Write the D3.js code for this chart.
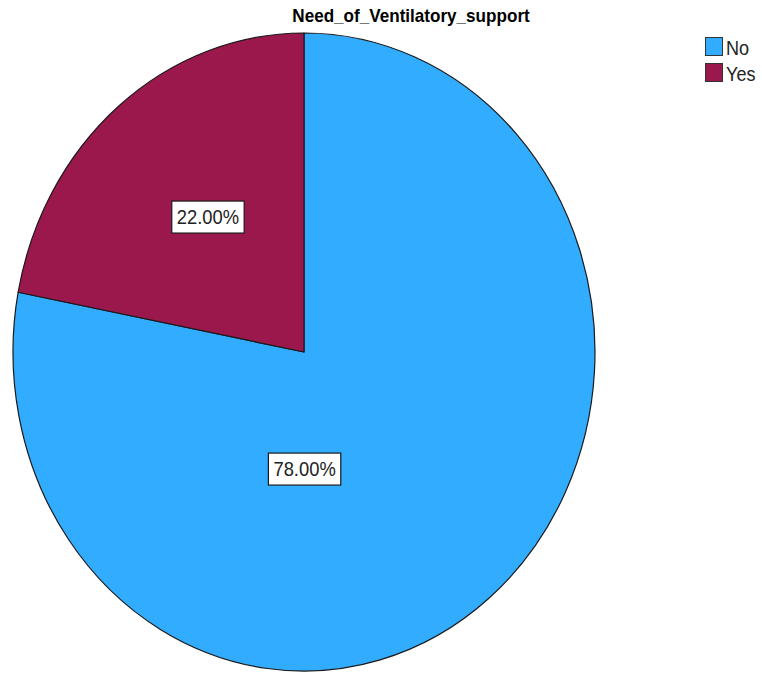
<!DOCTYPE html>
<html>
<head>
<meta charset="utf-8">
<script src="https://cdn.jsdelivr.net/npm/d3@7"></script>
<style>
  html, body { margin: 0; padding: 0; background: #ffffff; }
  svg { display: block; }
</style>
</head>
<body>
<svg id="chart" width="762" height="675"></svg>
<script>
// Chart data
const title = "Need_of_Ventilatory_support";
const categories = ["No", "Yes"];
const percents = [78.00, 22.00];
const colors = ["#31acff", "#9b184d"];

// Layout
const W = 762, H = 675;
const cx = 304, cy = 352;      // pie centre
const rx = 291, ry = 319;      // horizontal / vertical radius (pie is drawn stretched)
// label anchors, as fractions of the radii relative to the centre
const labelOffsets = [[0.002, 0.367], [-0.33, -0.423]];
const FONT = "Liberation Sans, Arial, sans-serif";

const svg = d3.select("#chart");

// Title
svg.append("text")
  .attr("transform", "translate(411,22) scale(0.95,1)")
  .attr("text-anchor", "middle")
  .attr("font-family", FONT)
  .attr("font-weight", "bold")
  .attr("font-size", 18)
  .attr("fill", "#000")
  .text(title);

// Pie: "No" runs clockwise from 12 o'clock, "Yes" fills the rest
const data = categories.map((c, i) => ({ cat: c, value: percents[i], color: colors[i], i }));
const pie = d3.pie().value(d => d.value).sort(null);
const arcs = pie(data);
const arc = d3.arc().innerRadius(0).outerRadius(ry);

const g = svg.append("g")
  .attr("transform", `translate(${cx},${cy}) scale(${rx / ry},1)`);

g.selectAll("path.slice")
  .data(arcs)
  .join("path")
  .attr("class", "slice")
  .attr("d", arc)
  .attr("fill", d => d.data.color)
  .attr("stroke", "#1a1a1a")
  .attr("stroke-width", 1.2)
  .attr("stroke-linejoin", "round")
  .attr("vector-effect", "non-scaling-stroke");

// Value labels in white boxes
const fmt = d3.format(".2f");
const labels = svg.append("g").selectAll("g.lbl")
  .data(arcs)
  .join("g")
  .attr("class", "lbl")
  .attr("transform", d => {
    const o = labelOffsets[d.data.i];
    return `translate(${cx + o[0] * rx},${cy + o[1] * ry})`;
  });

labels.each(function(d) {
  const sel = d3.select(this);
  const t = sel.append("text")
    .attr("text-anchor", "middle")
    .attr("dy", "0.36em")
    .attr("transform", "scale(0.92,1)")
    .attr("font-family", FONT)
    .attr("font-size", 20)
    .attr("fill", "#222")
    .text(fmt(d.data.value) + "%");
  const bb = t.node().getBBox();
  const w = bb.width * 0.92 + 10;
  sel.insert("rect", "text")
    .attr("x", -w / 2).attr("y", -16)
    .attr("width", w).attr("height", 32)
    .attr("fill", "#fff")
    .attr("stroke", "#1a1a1a")
    .attr("stroke-width", 1.2);
});

// Legend
const legend = svg.append("g").attr("transform", "translate(705,37)");
const items = legend.selectAll("g")
  .data(data)
  .join("g")
  .attr("transform", (d, i) => `translate(0,${i * 26})`);
items.append("rect")
  .attr("x", 0.5).attr("y", 0.5)
  .attr("width", 17).attr("height", 18)
  .attr("fill", d => d.color)
  .attr("stroke", "#333")
  .attr("stroke-width", 1);
items.append("text")
  .attr("transform", "translate(21,18) scale(0.86,1)")
  .attr("font-family", FONT)
  .attr("font-size", 21)
  .attr("fill", "#222")
  .text(d => d.cat);
</script>
</body>
</html>
